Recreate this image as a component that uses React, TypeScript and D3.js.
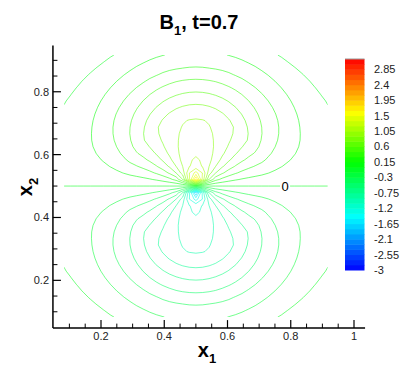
import React, { useMemo } from 'react';
import * as d3 from 'd3';

const W = 415;
const H = 369;

// B1 along the vertical through the centre (distance from centre -> value)
const profileR = [0.0208, 0.0417, 0.0625, 0.0833, 0.104, 0.15, 0.22, 0.26, 0.299, 0.34, 0.378, 0.43, 0.49, 0.6];
const profileB = [1.82, 1.41, 1.105, 1.07, 1.03, 0.97, 0.9, 0.75, 0.6, 0.45, 0.3, 0.15, 0, -0.2];

// mesh of the solution
const gridN = 41;
const gridStep = 1 / 48;
const gridStart = 0.5 - 20 / 48;

const contourLevels = [
  -1.8, -1.65, -1.5, -1.35, -1.2, -1.05, -0.9, -0.75, -0.6, -0.45, -0.3, -0.15, 0,
  0.15, 0.3, 0.45, 0.6, 0.75, 0.9, 1.05, 1.2, 1.35, 1.5, 1.65, 1.8,
];

const xMajor = [0.2, 0.4, 0.6, 0.8, 1];
const xMinor = [0.1, 0.15, 0.25, 0.3, 0.35, 0.45, 0.5, 0.55, 0.65, 0.7, 0.75, 0.85, 0.9, 0.95];
const yMajor = [0.2, 0.4, 0.6, 0.8];
const yMinor = [0.1, 0.15, 0.25, 0.3, 0.35, 0.45, 0.5, 0.55, 0.65, 0.7, 0.75, 0.85, 0.9];

const legendLabels = ['2.85', '2.4', '1.95', '1.5', '1.05', '0.6', '0.15', '-0.3', '-0.75', '-1.2', '-1.65', '-2.1', '-2.55', '-3'];
const legendMin = -3;
const legendMax = 3.15;
const legendStep = 0.15;

const FONT = 'Liberation Sans, Arial, Helvetica, sans-serif';

const color = d3.scaleLinear<string>()
  .domain([-3, -1.45, 0.15, 1.6, 3.15])
  .range(['#0000ff', '#00ffff', '#00ff00', '#ffff00', '#ff0000']);

const x = d3.scaleLinear().domain([0, 1]).range([37.75, 354]);
const y = d3.scaleLinear().domain([0, 1]).range([343.2, 28.9]);

export default function App() {
  const paths = useMemo(() => {
    const g = d3.scaleLinear().domain(profileR).range(profileB).clamp(true);
    const values: number[] = [];
    for (let j = 0; j < gridN; j++) {
      for (let i = 0; i < gridN; i++) {
        const dx = (i - 20) * gridStep;
        const dy = (j - 20) * gridStep;
        const r = Math.hypot(dx, dy);
        values.push(r === 0 ? 0 : (dy / r) * g(r));
      }
    }
    const toX = (c: number) => x(gridStart + (c - 0.5) * gridStep);
    const toY = (c: number) => y(gridStart + (c - 0.5) * gridStep);
    const proj = d3.geoTransform({
      point(px: number, py: number) {
        this.stream.point(toX(px), toY(py));
      },
    });
    const path = d3.geoPath(proj);
    const gen = d3.contours().size([gridN, gridN]).thresholds(contourLevels);
    return gen(values).map(c => ({ level: c.value, d: path(c as any) || '' }));
  }, []);

  const x0 = x(gridStart);
  const x1 = x(gridStart + (gridN - 1) * gridStep);
  const yTop = y(gridStart + (gridN - 1) * gridStep);
  const yBot = y(gridStart);

  const axisLeft = x(0.048);
  const axisBottom = y(0.048);

  const cb = d3.scaleLinear().domain([legendMin, legendMax]).range([270, 59]);
  const bands = d3.range(legendMin, legendMax - 1e-9, legendStep);

  return (
    <svg width={W} height={H} style={{ position: 'absolute', left: 0, top: 0, background: '#fff' }} fontFamily={FONT}>
      <defs>
        <clipPath id="plotClip">
          <rect x={x0} y={yTop} width={x1 - x0} height={yBot - yTop} />
        </clipPath>
      </defs>

      {/* title */}
      <text x={199} y={29} textAnchor="middle" fontSize={20} fontWeight="bold" fill="#000">
        B<tspan fontSize={13} dy={6}>1</tspan><tspan dy={-6}>, t=0.7</tspan>
      </text>

      {/* contour lines */}
      <g clipPath="url(#plotClip)" fill="none" strokeWidth={1}>
        {paths.map(p => (
          <path key={p.level} d={p.d} stroke={color(p.level)} strokeOpacity={0.55} />
        ))}
      </g>

      {/* zero label */}
      <rect x={x(0.782) - 5} y={y(0.5) - 7} width={10} height={14} fill="#fff" />
      <text x={x(0.782)} y={y(0.5) + 4.5} textAnchor="middle" fontSize={13} fill="#000">0</text>

      {/* axes */}
      <g stroke="#000" strokeWidth={1.5}>
        <line x1={axisLeft} x2={x(1.035)} y1={axisBottom} y2={axisBottom} />
        <line x1={axisLeft} x2={axisLeft} y1={axisBottom} y2={y(0.947)} />
        {xMajor.map(v => (
          <line key={'xM' + v} x1={x(v)} x2={x(v)} y1={axisBottom} y2={axisBottom - 8} strokeWidth={1.2} />
        ))}
        {xMinor.map(v => (
          <line key={'xm' + v} x1={x(v)} x2={x(v)} y1={axisBottom} y2={axisBottom - 4.5} strokeWidth={1} />
        ))}
        {yMajor.map(v => (
          <line key={'yM' + v} x1={axisLeft} x2={axisLeft + 8} y1={y(v)} y2={y(v)} strokeWidth={1.2} />
        ))}
        {yMinor.map(v => (
          <line key={'ym' + v} x1={axisLeft} x2={axisLeft + 4.5} y1={y(v)} y2={y(v)} strokeWidth={1} />
        ))}
      </g>
      <g fontSize={11} fill="#222">
        {xMajor.map(v => (
          <text key={'xl' + v} x={x(v)} y={axisBottom + 12} textAnchor="middle">{String(v)}</text>
        ))}
        {yMajor.map(v => (
          <text key={'yl' + v} x={49} y={y(v) + 4} textAnchor="end">{String(v)}</text>
        ))}
      </g>

      {/* axis titles */}
      <text x={207} y={357} textAnchor="middle" fontSize={20} fontWeight="bold" fill="#000">
        x<tspan fontSize={13} dy={6}>1</tspan>
      </text>
      <text transform="translate(32,187) rotate(-90)" textAnchor="middle" fontSize={20} fontWeight="bold" fill="#000">
        x<tspan fontSize={13} dy={6}>2</tspan>
      </text>

      {/* colour bar */}
      <g>
        {bands.map(v => (
          <rect key={'b' + v} x={345} width={19.5} y={cb(v + legendStep)} height={cb(v) - cb(v + legendStep) + 0.5}
            fill={color(v + legendStep / 2)} />
        ))}
        <line x1={345} x2={364.5} y1={59} y2={59} stroke="#999" strokeWidth={1} />
      </g>
      <g fontSize={11} fill="#222">
        {legendLabels.map(l => (
          <text key={'cl' + l} x={374} y={cb(+l) + 4}>{l}</text>
        ))}
      </g>
    </svg>
  );
}
